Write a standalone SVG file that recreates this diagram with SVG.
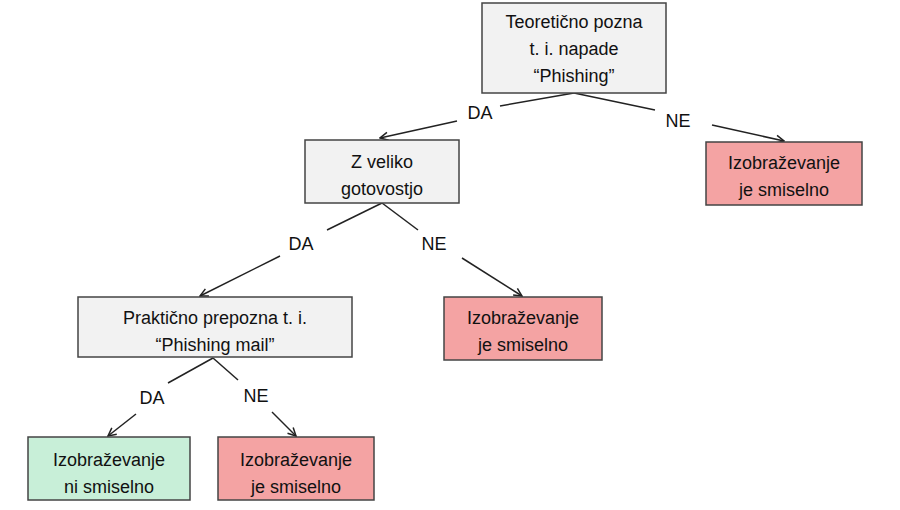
<svg xmlns="http://www.w3.org/2000/svg" width="900" height="510" viewBox="0 0 900 510">
<defs>
<marker id="ah" markerWidth="10" markerHeight="10" refX="9" refY="5" orient="auto" markerUnits="userSpaceOnUse">
<path d="M1,1 L9,5 L1,9" fill="none" stroke="#222" stroke-width="1.5"/>
</marker>
<style>
rect{stroke:#444;stroke-width:1.5}
.q{fill:#f2f2f2}.r{fill:#f4a3a3}.g{fill:#c8efd8}
text{font-family:"Liberation Sans",Arial,sans-serif;font-size:18px;fill:#111;text-anchor:middle}
.c line{stroke:#222;stroke-width:1.5}
</style>
</defs>
<rect width="900" height="510" fill="#fff" style="stroke:none"/>
<g class="c" id="connectors">
<line x1="574" y1="93" x2="500" y2="106"/>
<line x1="457" y1="121" x2="380" y2="138" marker-end="url(#ah)"/>
<line x1="574" y1="93" x2="655" y2="110"/>
<line x1="712" y1="125" x2="784" y2="141" marker-end="url(#ah)"/>
<line x1="382" y1="203" x2="327" y2="230"/>
<line x1="280" y1="256" x2="200" y2="296" marker-end="url(#ah)"/>
<line x1="382" y1="203" x2="418" y2="230"/>
<line x1="462" y1="258" x2="522" y2="296" marker-end="url(#ah)"/>
<line x1="213" y1="358" x2="168" y2="383"/>
<line x1="136" y1="414" x2="108" y2="436" marker-end="url(#ah)"/>
<line x1="213" y1="358" x2="238" y2="380"/>
<line x1="272" y1="412" x2="296" y2="436" marker-end="url(#ah)"/>
<text x="480" y="119">DA</text>
<text x="678" y="127">NE</text>
<text x="301" y="250">DA</text>
<text x="434" y="250">NE</text>
<text x="152" y="404">DA</text>
<text x="256" y="402">NE</text>
</g>
<g id="root"><rect class="q" x="482" y="3" width="184" height="90"/><text x="574" y="28">Teoretično pozna</text><text x="574" y="55">t. i. napade</text><text x="574" y="82">“Phishing”</text></g>
<g id="zveliko"><rect class="q" x="305" y="140" width="154" height="63"/><text x="382" y="168">Z veliko</text><text x="382" y="195">gotovostjo</text></g>
<g id="red1"><rect class="r" x="706" y="142" width="156" height="63"/><text x="784" y="169">Izobraževanje</text><text x="784" y="196">je smiselno</text></g>
<g id="prakticno"><rect class="q" x="78" y="297" width="274" height="60"/><text x="215" y="324">Praktično prepozna t. i.</text><text x="215" y="351">“Phishing mail”</text></g>
<g id="red2"><rect class="r" x="444" y="297" width="158" height="63"/><text x="523" y="324">Izobraževanje</text><text x="523" y="351">je smiselno</text></g>
<g id="green"><rect class="g" x="28" y="437" width="162" height="63"/><text x="109" y="466">Izobraževanje</text><text x="109" y="493">ni smiselno</text></g>
<g id="red3"><rect class="r" x="218" y="437" width="156" height="63"/><text x="296" y="466">Izobraževanje</text><text x="296" y="493">je smiselno</text></g>
</svg>
